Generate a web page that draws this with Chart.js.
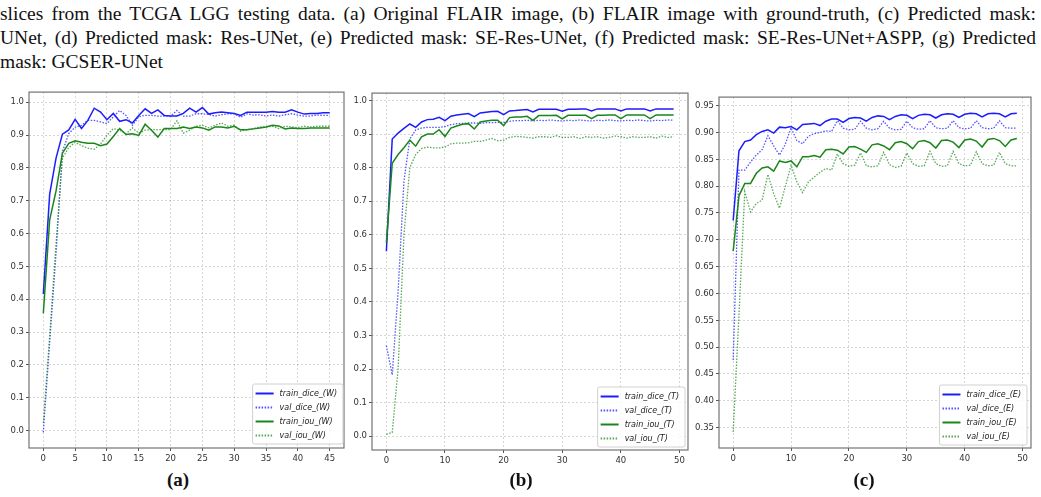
<!DOCTYPE html>
<html>
<head>
<meta charset="utf-8">
<script src="https://cdn.jsdelivr.net/npm/chart.js@4.4.1/dist/chart.umd.min.js"></script>
<style>
  body { margin: 0; background: #fff; width: 1041px; height: 497px; overflow: hidden; position: relative; }
  .cap { position: absolute; left: 0; white-space: nowrap; font-family: "Liberation Serif", serif; font-size: 19.5px; line-height: 24px; color: #111; }
  .sub { position: absolute; top: 468px; transform: translateX(-50%); font-family: "Liberation Serif", serif; font-weight: bold; font-size: 19px; line-height: 24px; color: #111; }
  canvas { position: absolute; }
</style>
</head>
<body>
<div class="cap just" style="top:2px">slices from the TCGA LGG testing data. (a) Original FLAIR image, (b) FLAIR image with ground-truth, (c) Predicted mask:</div>
<div class="cap just" style="top:26px">UNet, (d) Predicted mask: Res-UNet, (e) Predicted mask: SE-Res-UNet, (f) Predicted mask: SE-Res-UNet+ASPP, (g) Predicted</div>
<div class="cap" style="top:50px">mask: GCSER-UNet</div>

<canvas id="chartA"></canvas>
<canvas id="chartB"></canvas>
<canvas id="chartC"></canvas>
<div class="sub" style="left:178px">(a)</div>
<div class="sub" style="left:521px">(b)</div>
<div class="sub" style="left:864px">(c)</div>

<script>
// (a) whole tumour, epochs 0..45
const aTrainDice = [0.416, 0.72, 0.83, 0.903, 0.916, 0.948, 0.92, 0.945, 0.982, 0.97, 0.947, 0.966, 0.942, 0.947, 0.937, 0.96, 0.98, 0.966, 0.977, 0.96, 0.958, 0.958, 0.966, 0.982, 0.97, 0.984, 0.964, 0.968, 0.97, 0.968, 0.966, 0.96, 0.97, 0.97, 0.97, 0.97, 0.972, 0.97, 0.97, 0.977, 0.97, 0.964, 0.966, 0.966, 0.968, 0.968];
const aValDice = [-0.005, 0.27, 0.54, 0.85, 0.905, 0.924, 0.93, 0.945, 0.945, 0.94, 0.935, 0.956, 0.975, 0.96, 0.93, 0.956, 0.96, 0.96, 0.958, 0.958, 0.958, 0.975, 0.958, 0.958, 0.965, 0.965, 0.963, 0.958, 0.962, 0.965, 0.965, 0.954, 0.965, 0.961, 0.962, 0.958, 0.961, 0.958, 0.962, 0.965, 0.961, 0.958, 0.958, 0.961, 0.96, 0.96];
const aTrainIou = [0.357, 0.642, 0.73, 0.845, 0.875, 0.883, 0.878, 0.875, 0.875, 0.868, 0.873, 0.896, 0.92, 0.902, 0.904, 0.899, 0.933, 0.915, 0.894, 0.92, 0.92, 0.92, 0.925, 0.92, 0.925, 0.922, 0.915, 0.925, 0.925, 0.922, 0.927, 0.916, 0.916, 0.919, 0.922, 0.925, 0.93, 0.928, 0.919, 0.922, 0.92, 0.92, 0.922, 0.922, 0.922, 0.922];
const aValIou = [0.023, 0.29, 0.57, 0.83, 0.862, 0.878, 0.868, 0.86, 0.857, 0.873, 0.9, 0.92, 0.915, 0.904, 0.922, 0.906, 0.915, 0.917, 0.917, 0.917, 0.917, 0.944, 0.906, 0.915, 0.927, 0.93, 0.922, 0.93, 0.937, 0.927, 0.93, 0.912, 0.917, 0.92, 0.925, 0.925, 0.927, 0.92, 0.927, 0.925, 0.923, 0.927, 0.925, 0.927, 0.927, 0.927];

// (b) tumour core, epochs 0..49
const bTrainDice = [0.551, 0.885, 0.903, 0.917, 0.93, 0.92, 0.936, 0.943, 0.944, 0.95, 0.94, 0.953, 0.957, 0.959, 0.961, 0.952, 0.963, 0.965, 0.967, 0.968, 0.958, 0.969, 0.97, 0.972, 0.973, 0.966, 0.974, 0.974, 0.974, 0.974, 0.968, 0.974, 0.974, 0.975, 0.975, 0.969, 0.975, 0.975, 0.975, 0.975, 0.969, 0.975, 0.975, 0.975, 0.975, 0.969, 0.975, 0.975, 0.975, 0.975];
const bValDice = [0.27, 0.183, 0.43, 0.76, 0.885, 0.912, 0.918, 0.92, 0.92, 0.92, 0.922, 0.928, 0.931, 0.932, 0.933, 0.933, 0.932, 0.934, 0.934, 0.935, 0.934, 0.938, 0.94, 0.94, 0.941, 0.939, 0.941, 0.94, 0.942, 0.94, 0.939, 0.941, 0.94, 0.942, 0.94, 0.939, 0.941, 0.94, 0.942, 0.94, 0.939, 0.941, 0.94, 0.942, 0.94, 0.939, 0.941, 0.94, 0.942, 0.941];
const bTrainIou = [0.576, 0.813, 0.839, 0.859, 0.882, 0.864, 0.892, 0.9, 0.9, 0.913, 0.893, 0.918, 0.924, 0.929, 0.931, 0.915, 0.936, 0.939, 0.941, 0.941, 0.925, 0.949, 0.951, 0.951, 0.953, 0.941, 0.955, 0.955, 0.955, 0.956, 0.945, 0.956, 0.956, 0.956, 0.956, 0.946, 0.956, 0.956, 0.957, 0.957, 0.946, 0.957, 0.957, 0.957, 0.957, 0.946, 0.957, 0.957, 0.957, 0.957];
const bValIou = [0.006, 0.011, 0.2, 0.6, 0.8, 0.839, 0.857, 0.861, 0.859, 0.859, 0.861, 0.871, 0.873, 0.873, 0.874, 0.878, 0.878, 0.882, 0.887, 0.88, 0.882, 0.89, 0.893, 0.892, 0.89, 0.888, 0.892, 0.892, 0.89, 0.895, 0.89, 0.89, 0.892, 0.887, 0.892, 0.89, 0.892, 0.888, 0.89, 0.894, 0.892, 0.888, 0.892, 0.89, 0.89, 0.892, 0.888, 0.894, 0.89, 0.892];

// (c) enhancing tumour, epochs 0..49
const cTrainDice = [0.736, 0.866, 0.883, 0.886, 0.896, 0.902, 0.905, 0.899, 0.91, 0.909, 0.911, 0.905, 0.915, 0.916, 0.917, 0.913, 0.921, 0.925, 0.925, 0.919, 0.926, 0.928, 0.927, 0.921, 0.928, 0.931, 0.93, 0.924, 0.93, 0.933, 0.932, 0.926, 0.932, 0.934, 0.933, 0.927, 0.933, 0.935, 0.934, 0.928, 0.934, 0.936, 0.935, 0.929, 0.935, 0.936, 0.935, 0.929, 0.935, 0.936];
const cValDice = [0.476, 0.83, 0.83, 0.845, 0.858, 0.868, 0.894, 0.875, 0.858, 0.878, 0.909, 0.885, 0.879, 0.893, 0.898, 0.9, 0.903, 0.902, 0.922, 0.908, 0.905, 0.906, 0.921, 0.908, 0.905, 0.907, 0.921, 0.908, 0.905, 0.906, 0.921, 0.909, 0.906, 0.907, 0.922, 0.909, 0.907, 0.908, 0.922, 0.909, 0.907, 0.908, 0.922, 0.909, 0.907, 0.908, 0.922, 0.909, 0.908, 0.908];
const cTrainIou = [0.679, 0.782, 0.805, 0.805, 0.824, 0.834, 0.836, 0.828, 0.847, 0.844, 0.847, 0.836, 0.855, 0.855, 0.857, 0.854, 0.868, 0.869, 0.867, 0.86, 0.873, 0.874, 0.869, 0.863, 0.877, 0.879, 0.875, 0.868, 0.881, 0.883, 0.879, 0.87, 0.883, 0.885, 0.881, 0.871, 0.885, 0.886, 0.882, 0.872, 0.886, 0.888, 0.884, 0.873, 0.887, 0.889, 0.885, 0.874, 0.886, 0.889];
const cValIou = [0.342, 0.56, 0.79, 0.752, 0.768, 0.774, 0.822, 0.786, 0.759, 0.799, 0.839, 0.808, 0.788, 0.808, 0.817, 0.826, 0.833, 0.83, 0.86, 0.842, 0.837, 0.839, 0.862, 0.838, 0.836, 0.838, 0.863, 0.84, 0.835, 0.837, 0.862, 0.842, 0.837, 0.838, 0.865, 0.842, 0.837, 0.838, 0.865, 0.842, 0.838, 0.839, 0.864, 0.842, 0.838, 0.839, 0.863, 0.842, 0.838, 0.838];

const seriesNames = ['train_dice', 'val_dice', 'train_iou', 'val_iou'];
const aXTicks = [0, 5, 10, 15, 20, 25, 30, 35, 40, 45];
const bXTicks = [0, 10, 20, 30, 40, 50];
const cXTicks = [0, 10, 20, 30, 40, 50];
const abYTicks = [0.0, 0.1, 0.2, 0.3, 0.4, 0.5, 0.6, 0.7, 0.8, 0.9, 1.0];
const cYTicks = [0.35, 0.40, 0.45, 0.50, 0.55, 0.60, 0.65, 0.70, 0.75, 0.80, 0.85, 0.90, 0.95];

const LINE_STYLES = [
  { color: '#1c1cff', width: 1.5, dash: [] },
  { color: 'rgba(40, 40, 255, 0.8)', width: 1.3, dash: [1.5, 1.5] },
  { color: '#1a861a', width: 1.5, dash: [] },
  { color: 'rgba(30, 140, 30, 0.75)', width: 1.3, dash: [1.5, 1.5] },
];
const TICK_FONT = { family: "'DejaVu Sans'", size: 8.5 };

function justifyLines() {
  document.querySelectorAll('.cap.just').forEach(el => {
    const spaces = (el.textContent.match(/ /g) || []).length;
    const extra = 1036 - el.getBoundingClientRect().width;
    el.style.wordSpacing = (extra / spaces) + 'px';
  });
}

// frame round the plot area plus a matplotlib-like legend in the lower right corner
const framePlugin = {
  id: 'frameLegend',
  afterDatasetsDraw(chart, args, opts) {
    const { ctx, chartArea: a } = chart;
    ctx.save();
    ctx.strokeStyle = '#737373';
    ctx.lineWidth = 1.2;
    ctx.strokeRect(a.left, a.top, a.right - a.left, a.bottom - a.top);

    ctx.font = 'italic 8px "DejaVu Sans"';
    const sets = chart.data.datasets;
    const tw = Math.max(...sets.map(d => ctx.measureText(d.label).width));
    const w = 3 + 18 + 6 + tw + 6, h = 60;
    const x = a.right - opts.right - w, y = a.bottom - opts.bottom - h;
    ctx.beginPath();
    ctx.roundRect(x, y, w, h, 2);
    ctx.fillStyle = 'rgba(255, 255, 255, 0.85)';
    ctx.fill();
    ctx.strokeStyle = '#d0d0d0';
    ctx.lineWidth = 1;
    ctx.stroke();

    sets.forEach((d, i) => {
      const cy = y + 9.5 + i * 14;
      ctx.beginPath();
      ctx.setLineDash(d.borderDash);
      ctx.strokeStyle = d.borderColor;
      ctx.lineWidth = d.borderWidth + 0.5;
      ctx.moveTo(x + 3, cy);
      ctx.lineTo(x + 21, cy);
      ctx.stroke();
      ctx.setLineDash([]);
      ctx.fillStyle = '#222';
      ctx.textBaseline = 'middle';
      ctx.fillText(d.label, x + 27, cy);
    });
    ctx.restore();
  },
};

function makeChart(cfg) {
  const canvas = document.getElementById(cfg.id);
  canvas.width = cfg.width;
  canvas.height = cfg.height;
  canvas.style.left = cfg.left + 'px';
  canvas.style.top = cfg.top + 'px';

  const datasets = cfg.series.map((vals, i) => ({
    label: `${seriesNames[i]}_(${cfg.tag})`,
    data: vals.map((v, epoch) => ({ x: epoch, y: v })),
    borderColor: LINE_STYLES[i].color,
    borderWidth: LINE_STYLES[i].width,
    borderDash: LINE_STYLES[i].dash,
    pointRadius: 0,
    tension: 0,
    fill: false,
    order: 4 - i,
  }));

  const grid = { color: 'rgba(0, 0, 0, 0.16)', lineWidth: 1, tickLength: 3, tickColor: '#555', tickWidth: 1 };

  return new Chart(canvas, {
    type: 'line',
    data: { datasets },
    options: {
      responsive: false,
      animation: false,
      devicePixelRatio: 1,
      layout: { padding: { top: 5, right: 3, left: 0, bottom: 0 } },
      scales: {
        x: {
          type: 'linear',
          min: cfg.xMin,
          max: cfg.xMax,
          grid,
          border: { display: false, dash: [2, 2] },
          ticks: { font: TICK_FONT, color: '#333', padding: 3, maxRotation: 0 },
          afterBuildTicks: s => { s.ticks = cfg.xTicks.map(v => ({ value: v })); },
          afterFit: s => { s.height = 20; },
        },
        y: {
          min: cfg.yMin,
          max: cfg.yMax,
          grid,
          border: { display: false, dash: [2, 2] },
          ticks: { font: TICK_FONT, color: '#333', padding: 2, callback: v => v.toFixed(cfg.digits) },
          afterBuildTicks: s => { s.ticks = cfg.yTicks.map(v => ({ value: v })); },
          afterFit: s => { s.width = cfg.yw; },
        },
      },
      plugins: {
        legend: { display: false },
        tooltip: { enabled: false },
        frameLegend: cfg.legend,
      },
    },
    plugins: [framePlugin],
  });
}

justifyLines();

makeChart({
  id: 'chartA', left: 0, top: 85, width: 347, height: 383, yw: 29,
  xMin: -2.25, xMax: 47.25, yMin: -0.053, yMax: 1.031, digits: 1,
  xTicks: aXTicks, yTicks: abYTicks, tag: 'W',
  series: [aTrainDice, aValDice, aTrainIou, aValIou],
  legend: { right: 1, bottom: 4 },
});

makeChart({
  id: 'chartB', left: 346, top: 86, width: 345, height: 384, yw: 26,
  xMin: -2.45, xMax: 51.45, yMin: -0.041, yMax: 1.022, digits: 1,
  xTicks: bXTicks, yTicks: abYTicks, tag: 'T',
  series: [bTrainDice, bValDice, bTrainIou, bValIou],
  legend: { right: 3, bottom: 3 },
});

makeChart({
  id: 'chartC', left: 695, top: 90, width: 339, height: 378, yw: 24,
  xMin: -2.45, xMax: 51.45, yMin: 0.312, yMax: 0.966, digits: 2,
  xTicks: cXTicks, yTicks: cYTicks, tag: 'E',
  series: [cTrainDice, cValDice, cTrainIou, cValIou],
  legend: { right: 4, bottom: 3 },
});
</script>
</body>
</html>
